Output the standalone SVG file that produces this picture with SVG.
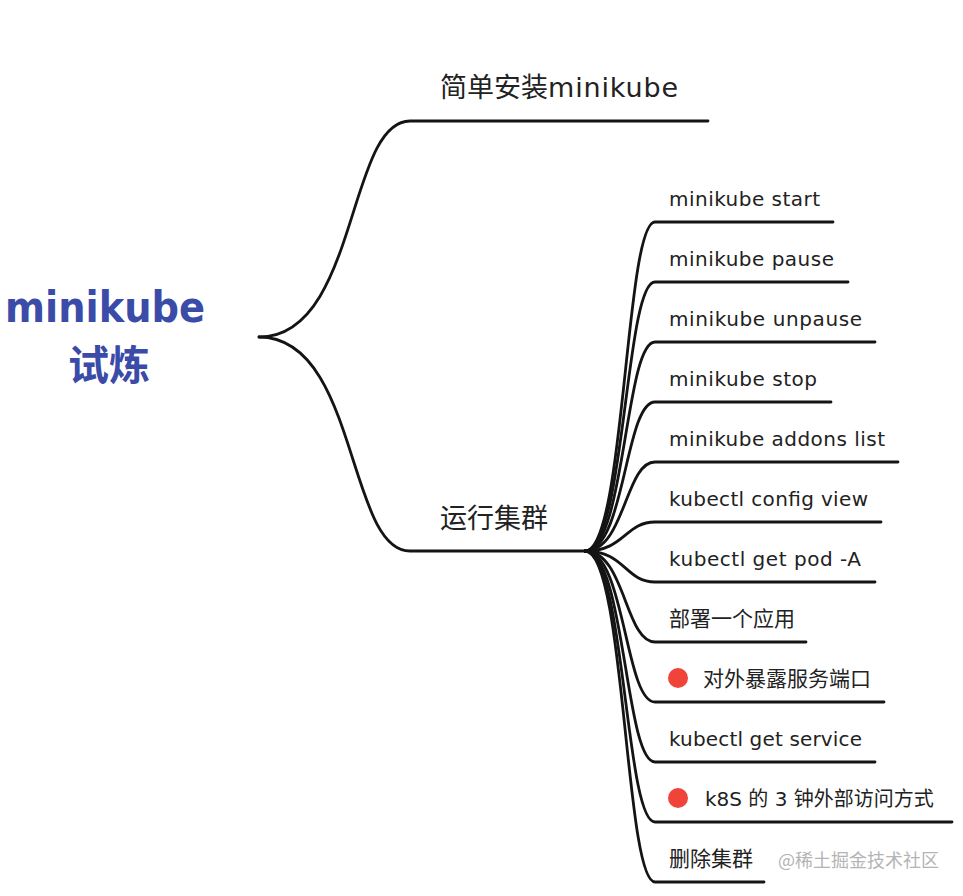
<svg xmlns="http://www.w3.org/2000/svg" width="963" height="896" viewBox="0 0 963 896">
<style>
.ln{fill:none;stroke:#141414;stroke-width:2.8;stroke-linecap:round}
.t{font-family:"DejaVu Sans","Noto Sans CJK SC",sans-serif;fill:#222}
.c{font-size:20px}
.cj{font-size:21px}
.m{font-size:27px}
.root{font-family:"DejaVu Sans","Noto Sans CJK SC",sans-serif;font-weight:bold;fill:#3a4ba8}
.dot{fill:#f0443a}
.wm{font-family:"Noto Sans CJK SC",sans-serif;font-size:18px;fill:#b4b4b4}
</style>
<rect width="963" height="896" fill="#ffffff"/>
<g id="connectors">
<path class="ln" d="M259,337 C358,337 347,121 410,121 L708,121"/>
<path class="ln" d="M259,337 C358,337 347,551 410,551 L585,551"/>
<path class="ln" d="M585,551 C625,551 625,222 655,222 L833,222"/>
<path class="ln" d="M585,551 C625,551 625,282 655,282 L848,282"/>
<path class="ln" d="M585,551 C625,551 625,342 655,342 L875,342"/>
<path class="ln" d="M585,551 C625,551 625,402 655,402 L831,402"/>
<path class="ln" d="M585,551 C625,551 625,462 655,462 L898,462"/>
<path class="ln" d="M585,551 C625,551 625,522 655,522 L881,522"/>
<path class="ln" d="M585,551 C625,551 625,582 655,582 L875,582"/>
<path class="ln" d="M585,551 C625,551 625,642 655,642 L806,642"/>
<path class="ln" d="M585,551 C625,551 625,702 655,702 L884,702"/>
<path class="ln" d="M585,551 C625,551 625,762 655,762 L875,762"/>
<path class="ln" d="M585,551 C625,551 625,822 655,822 L952,822"/>
<path class="ln" d="M585,551 C625,551 625,882 655,882 L764,882"/>
</g>
<g id="root">
<text class="root" x="5" y="322" font-size="42" textLength="200" lengthAdjust="spacingAndGlyphs">minikube</text>
<text class="root" x="68" y="380" font-size="41">试炼</text>
</g>
<g id="n-install"><text class="t m" x="440" y="97">简单安装<tspan textLength="130">minikube</tspan></text></g>
<g id="n-run"><text class="t m" x="440" y="528">运行集群</text></g>
<g id="c1"><text class="t c" x="669" y="206" textLength="151">minikube start</text></g>
<g id="c2"><text class="t c" x="669" y="266" textLength="165">minikube pause</text></g>
<g id="c3"><text class="t c" x="669" y="326" textLength="193">minikube unpause</text></g>
<g id="c4"><text class="t c" x="669" y="386" textLength="148">minikube stop</text></g>
<g id="c5"><text class="t c" x="669" y="446" textLength="216">minikube addons list</text></g>
<g id="c6"><text class="t c" x="669" y="506" textLength="199">kubectl config view</text></g>
<g id="c7"><text class="t c" x="669" y="566" textLength="192">kubectl get pod -A</text></g>
<g id="c8"><text class="t cj" x="669" y="626">部署一个应用</text></g>
<g id="c9"><circle class="dot" cx="678" cy="678" r="10"/><text class="t cj" x="703" y="686">对外暴露服务端口</text></g>
<g id="c10"><text class="t c" x="669" y="746" textLength="193">kubectl get service</text></g>
<g id="c11"><circle class="dot" cx="678" cy="798" r="10"/><text class="t c" x="705" y="806">k8S 的 3 钟外部访问方式</text></g>
<g id="c12"><text class="t cj" x="669" y="866">删除集群</text></g>
<text class="wm" x="778" y="867">@稀土掘金技术社区</text>
</svg>
